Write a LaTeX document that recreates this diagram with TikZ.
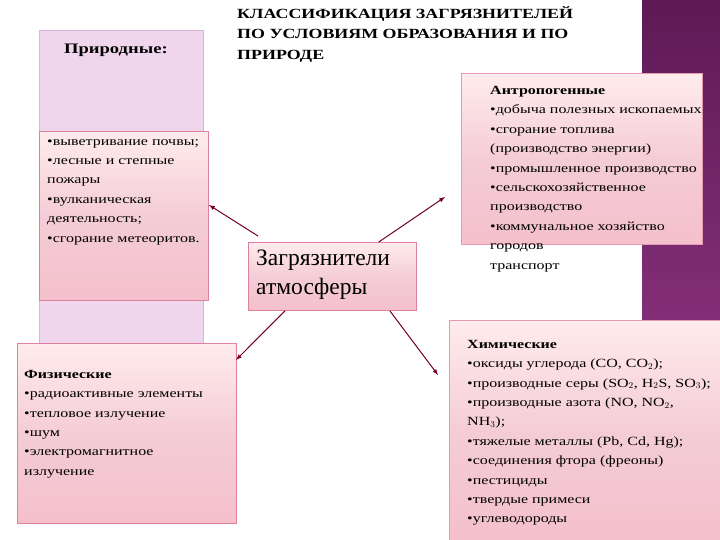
\documentclass[tikz,border=0pt]{standalone}
\usepackage{fontspec}
\setmainfont{Liberation Serif}
\newfontfamily\wide[FakeStretch=1.28]{Liberation Serif}
\definecolor{barA}{HTML}{5E1A55}
\definecolor{barB}{HTML}{9C3C8E}
\definecolor{lav}{HTML}{EFD6EC}
\definecolor{lavd}{HTML}{D8B4D6}
\begin{document}
\begin{tikzpicture}[x=1pt,y=-1pt,
  pbox/.style={draw=#1, line width=0.8pt, top color=pink!30!white, bottom color=pink!60!purple!45!white, middle color=pink!45!purple!30!white},
  pbox/.default={purple!40!white},
  body/.style={font=\wide\fontsize{12.5}{19.4}\selectfont, align=left, anchor=north west, inner sep=0pt},
  conn/.style={draw=purple!60!black, line width=1pt, -latex}]
\useasboundingbox (0,0) rectangle (720,540);
\shade[top color=barA, bottom color=barB] (642,0) rectangle (720,540);
% Природные
\node[draw=lavd, fill=lav, line width=1.2pt, minimum width=164, minimum height=327, anchor=north west] (nat) at (39,30) {};
\node[font=\wide\bfseries\fontsize{14.5}{16}\selectfont, anchor=west, inner sep=0pt] (natt) at (64,50) {Природные:};
\node[pbox={purple!50!white}, minimum width=169, minimum height=169, anchor=north west] (natb) at (39,131) {};
\node[body] (natx) at (47,139) {•выветривание почвы;\\•лесные и степные\\пожары\\•вулканическая\\деятельность;\\•сгорание метеоритов.};
% title
\node[font=\wide\bfseries\fontsize{14}{20.5}\selectfont, align=left, anchor=north west, inner sep=0pt] (title) at (237,6) {КЛАССИФИКАЦИЯ ЗАГРЯЗНИТЕЛЕЙ\\ПО УСЛОВИЯМ ОБРАЗОВАНИЯ И ПО\\ПРИРОДЕ};
% center
\node[pbox={purple!50!white}, minimum width=168, minimum height=68, anchor=north west] (c) at (248,242) {};
\node[font=\fontsize{23.5}{29}\selectfont, align=left, anchor=north west, inner sep=0pt] (ct) at (256,250) {Загрязнители\\атмосферы};
% Антропогенные
\node[pbox={purple!40!white}, minimum width=241, minimum height=171, anchor=north west] (ant) at (461,73) {};
\node[body] (antx) at (490,86) {\textbf{Антропогенные}\\•добыча полезных ископаемых\\•сгорание топлива\\(производство энергии)\\•промышленное производство\\•сельскохозяйственное\\производство\\•коммунальное хозяйство\\городов\\транспорт};
% Физические
\node[pbox={purple!50!white}, minimum width=219, minimum height=180, anchor=north west] (phy) at (17,343) {};
\node[body] (phyx) at (24,370) {\textbf{Физические}\\•радиоактивные элементы\\•тепловое излучение\\•шум\\•электромагнитное\\излучение};
% Химические
\node[pbox={purple!40!white}, minimum width=271, minimum height=220, anchor=north west] (chem) at (449,320) {};
\node[body] (chemx) at (467,340) {\textbf{Химические}\\•оксиды углерода (CO, CO$_2$);\\•производные серы (SO$_2$, H$_2$S, SO$_3$);\\•производные азота (NO, NO$_2$,\\NH$_3$);\\•тяжелые металлы (Pb, Cd, Hg);\\•соединения фтора (фреоны)\\•пестициды\\•твердые примеси\\•углеводороды};
% connectors
\coordinate (a1) at (209,205);
\coordinate (a2) at (445,197);
\coordinate (a3) at (236,360);
\coordinate (a4) at (438,375);
\draw[conn] (c.north west) ++(10,-6) -- (a1);
\draw[conn] (c.north east) ++(-38,0) -- (a2);
\draw[conn] (c.south west) ++(37,0) -- (a3);
\draw[conn] (c.south east) ++(-27,0) -- (a4);
\end{tikzpicture}
\end{document}
